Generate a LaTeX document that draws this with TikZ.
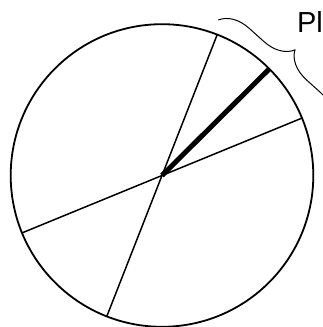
\documentclass[tikz,border=0pt]{standalone}
\usepackage{fontspec}
\setmainfont{Liberation Sans}
\usetikzlibrary{decorations.pathreplacing,calc}
\begin{document}
\begin{tikzpicture}[x=1pt,y=1pt,
  rim/.style={line width=1.8pt},
  diam/.style={line width=1.5pt},
  heavy/.style={line width=5pt},
  bracestyle/.style={line width=1pt,decorate,decoration={brace,amplitude=29pt}}]
\clip (0,0) rectangle (323,327);
\useasboundingbox (0,0) rectangle (323,327);
\coordinate (c) at (162,151.5);
\draw[rim] (c) circle (151.3);
\draw[diam] ($(c)+(68.6:151.3)$) -- ($(c)+(248.6:151.3)$);
\draw[diam] ($(c)+(22.3:151.3)$) -- ($(c)+(202.3:151.3)$);
\draw[heavy] (c) -- ($(c)+(44.8:150.5)$);
\coordinate (bs) at (218.3,307);
\coordinate (be) at (332.7,204);
\draw[bracestyle] (bs) -- (be);
\node[anchor=base west,inner sep=0pt,font=\fontsize{29}{32}\selectfont] (lbl) at (296.8,294) {Pl};
\end{tikzpicture}
\end{document}
